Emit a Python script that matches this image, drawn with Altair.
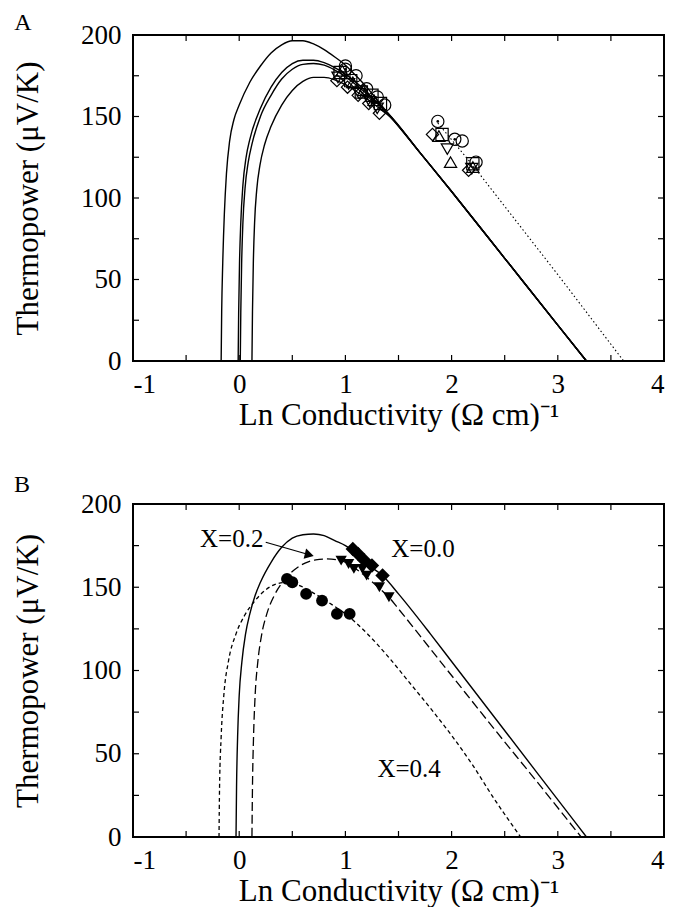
import altair as alt
import pandas as pd

# ---------------- Panel A data ----------------
a_outer_x = [-0.17, -0.165, -0.155, -0.14, -0.12, -0.09, -0.05, 0.0, 0.1, 0.2, 0.3, 0.4, 0.5, 0.6, 0.7, 0.8, 0.9, 1.0, 1.1, 1.2, 1.3, 1.4, 1.7, 2.0, 2.5, 3.0, 3.27]
a_outer_y = [0, 30, 60, 90, 115, 135, 148, 157, 171, 181, 189, 194, 196.5, 196.5, 194.5, 191, 186.5, 181.5, 175, 168, 160, 152, 128, 104, 63, 22, 0]
a_mid1_x = [-0.01, -0.005, 0.003, 0.015, 0.035, 0.065, 0.1, 0.2, 0.3, 0.4, 0.5, 0.6, 0.7, 0.8, 0.9, 1.0, 1.1, 1.2, 1.3, 1.4, 1.7, 2.0, 2.5, 3.0, 3.27]
a_mid1_y = [0, 30, 60, 85, 108, 125, 136, 155, 168, 177, 182.5, 184.5, 184.5, 183, 180, 176, 171, 165, 158.5, 152, 128, 104, 63, 22, 0]
a_mid2_x = [0.01, 0.015, 0.023, 0.035, 0.055, 0.085, 0.12, 0.2, 0.3, 0.4, 0.5, 0.6, 0.7, 0.8, 0.9, 1.0, 1.1, 1.2, 1.3, 1.4, 1.7, 2.0, 2.5, 3.0, 3.27]
a_mid2_y = [0, 30, 60, 85, 106, 122, 133, 150, 163, 173, 179, 182, 182.5, 181.5, 178.5, 174.5, 169.5, 164, 158, 152, 128, 104, 63, 22, 0]
a_inner_x = [0.12, 0.125, 0.133, 0.145, 0.165, 0.195, 0.24, 0.3, 0.4, 0.5, 0.6, 0.7, 0.8, 0.9, 1.0, 1.1, 1.2, 1.3, 1.4, 1.7, 2.0, 2.5, 3.0, 3.27]
a_inner_y = [0, 30, 60, 85, 105, 120, 133, 144, 157, 166, 171.5, 174, 174, 172.5, 169.5, 165.5, 161, 156, 151, 128, 104, 63, 22, 0]
a_dot_x = [1.87, 2.2, 3.0, 3.62]
a_dot_y = [146, 120, 53, 0]

a_sq_x = [0.95, 1.05, 1.15, 1.25, 1.33, 1.91, 2.2]
a_sq_y = [177, 172, 165, 163, 158, 139, 121]
a_ci_x = [1.0, 1.1, 1.2, 1.3, 1.37, 2.1, 2.23]
a_ci_y = [181, 175, 167, 162, 157, 135, 122]
a_di_x = [0.92, 1.02, 1.12, 1.22, 1.32, 1.82, 2.16]
a_di_y = [172, 168, 163, 158, 152, 139, 117]
a_tu_x = [0.97, 1.07, 1.17, 1.27, 1.88, 1.99, 2.2]
a_tu_y = [178, 171, 166, 160, 138, 122, 119]
a_td_x = [0.93, 1.03, 1.13, 1.23, 1.3, 1.96, 2.19]
a_td_y = [174, 170, 164, 159, 155, 130, 118]
a_cd_x = [1.0, 1.87, 2.03]
a_cd_y = [179, 147, 136]

# ---------------- Panel B data ----------------
b_x00_x = [-0.03, -0.025, -0.015, 0.0, 0.025, 0.06, 0.1, 0.15, 0.2, 0.3, 0.4, 0.5, 0.6, 0.7, 0.8, 0.9, 1.0, 1.1, 1.2, 1.35, 1.5, 1.8, 2.0, 2.4, 2.8, 3.27]
b_x00_y = [0, 30, 60, 85, 105, 122, 134, 145, 153, 165, 174, 179.5, 181.5, 182, 181, 178, 175, 170, 164, 157, 146, 122, 105.4, 72.2, 39, 0]
b_x02_x = [0.12, 0.125, 0.135, 0.15, 0.175, 0.21, 0.26, 0.33, 0.42, 0.52, 0.62, 0.72, 0.82, 0.92, 1.0, 1.1, 1.2, 1.3, 1.41, 1.5, 1.8, 2.0, 2.4, 2.8, 3.22]
b_x02_y = [0, 30, 60, 85, 105, 121, 134, 145, 154, 160.5, 164.5, 166.5, 167, 166.5, 165, 161, 156, 150.5, 144, 137, 113, 97, 65, 33.5, 0]
b_x04_x = [-0.19, -0.185, -0.17, -0.145, -0.1, -0.03, 0.05, 0.15, 0.25, 0.35, 0.45, 0.55, 0.7, 0.85, 1.0, 1.2, 1.4, 1.6, 1.83, 2.0, 2.2, 2.4, 2.65]
b_x04_y = [0, 30, 60, 85, 106, 122, 133, 142, 148.5, 152, 153, 151.5, 146.5, 140.5, 134, 122.5, 108.5, 93, 75, 61, 43, 23, 0]

b_di_x = [1.07, 1.12, 1.18, 1.25, 1.35]
b_di_y = [173, 170, 166, 163, 157]
b_td_x = [0.96, 1.03, 1.08, 1.16, 1.2, 1.32, 1.41]
b_td_y = [166, 164, 161, 161, 157, 150, 144]
b_ci_x = [0.45, 0.5, 0.63, 0.78, 0.92, 1.04]
b_ci_y = [155, 153, 146, 142, 134, 134]

b_labels = ["X=0.2", "X=0.0", "X=0.4"]
b_label_x = [-0.07, 1.73, 1.6]
b_label_y = [179, 173, 41]
b_arrow_x = [0.25, 0.66]
b_arrow_y = [177, 169.5]

x_ticks_major = [-1, 0, 1, 2, 3, 4]
x_ticks_all = [-1, -0.5, 0, 0.5, 1, 1.5, 2, 2.5, 3, 3.5, 4]
y_ticks_major = [0, 50, 100, 150, 200]
y_ticks_all = [0, 25, 50, 75, 100, 125, 150, 175, 200]

W = 531
HA = 326
HB = 333
FONT = "Liberation Serif"

xs = alt.Scale(domain=[-1, 4], nice=False, zero=False)
ys = alt.Scale(domain=[0, 200], nice=False, zero=False)
XTITLE = "Ln Conductivity (\u03a9 cm)\u207b\u00b9"
YTITLE = "Thermopower (\u03bcV/K)"


def xenc():
    return alt.X("x:Q", scale=xs, axis=alt.Axis(values=x_ticks_major, title=XTITLE, ticks=False,
                                                 domain=False, grid=False, labelPadding=10,
                                                 titlePadding=3, labelExpr="datum.value"))


def yenc():
    return alt.Y("y:Q", scale=ys, axis=alt.Axis(values=y_ticks_major, title=YTITLE, ticks=False,
                                                 domain=False, grid=False, labelPadding=12,
                                                 titlePadding=36))


def curve_df(pairs):
    rows = []
    for name, xv, yv in pairs:
        for i, (a, b) in enumerate(zip(xv, yv)):
            rows.append({"x": a, "y": b, "c": name, "o": i})
    return pd.DataFrame(rows)


def tick_layers(H):
    xt = pd.DataFrame({"x": x_ticks_all})
    yt = pd.DataFrame({"y": y_ticks_all})
    bx = alt.Chart(xt).mark_rule(color="black", strokeWidth=1.2).encode(
        x=alt.X("x:Q", scale=xs), y=alt.value(H), y2=alt.value(H - 6))
    tx = alt.Chart(xt).mark_rule(color="black", strokeWidth=1.2).encode(
        x=alt.X("x:Q", scale=xs), y=alt.value(0), y2=alt.value(6))
    ly = alt.Chart(yt).mark_rule(color="black", strokeWidth=1.2).encode(
        y=alt.Y("y:Q", scale=ys), x=alt.value(0), x2=alt.value(6))
    ry = alt.Chart(yt).mark_rule(color="black", strokeWidth=1.2).encode(
        y=alt.Y("y:Q", scale=ys), x=alt.value(W), x2=alt.value(W - 6))
    return [bx, tx, ly, ry]


# ---------- Panel A ----------
a_curves = curve_df([("o", a_outer_x, a_outer_y), ("m1", a_mid1_x, a_mid1_y),
                     ("m2", a_mid2_x, a_mid2_y), ("i", a_inner_x, a_inner_y)])
a_lines = alt.Chart(a_curves).mark_line(color="black", strokeWidth=1.4, interpolate="monotone").encode(
    x=xenc(), y=yenc(), detail="c:N", order="o:Q")
a_dotted = alt.Chart(pd.DataFrame({"x": a_dot_x, "y": a_dot_y})).mark_line(
    color="black", strokeWidth=1.1, strokeDash=[1.5, 2.5]).encode(x=alt.X("x:Q", scale=xs), y=alt.Y("y:Q", scale=ys))

a_pts_rows = []
for shp, xv, yv in [("square", a_sq_x, a_sq_y), ("circle", a_ci_x, a_ci_y), ("diamond", a_di_x, a_di_y),
                    ("triangle-up", a_tu_x, a_tu_y), ("triangle-down", a_td_x, a_td_y), ("circle", a_cd_x, a_cd_y)]:
    for a, b in zip(xv, yv):
        a_pts_rows.append({"x": a, "y": b, "s": shp})
a_pts = alt.Chart(pd.DataFrame(a_pts_rows)).mark_point(filled=False, color="black", strokeWidth=1.2, size=150, opacity=1).encode(
    x=alt.X("x:Q", scale=xs), y=alt.Y("y:Q", scale=ys),
    shape=alt.Shape("s:N", scale=None, legend=None))
a_cdot = alt.Chart(pd.DataFrame({"x": a_cd_x, "y": a_cd_y})).mark_point(filled=True, color="black", size=7, opacity=1).encode(
    x=alt.X("x:Q", scale=xs), y=alt.Y("y:Q", scale=ys))
a_label = alt.Chart(pd.DataFrame({"t": ["A"]})).mark_text(font=FONT, fontSize=24, align="center", baseline="alphabetic").encode(
    text="t:N", x=alt.value(-110), y=alt.value(-5))

panelA = alt.layer(a_lines, a_dotted, a_pts, a_cdot, a_label, *tick_layers(HA)).properties(width=W, height=HA)

# ---------- Panel B ----------
b00 = alt.Chart(curve_df([("b0", b_x00_x, b_x00_y)])).mark_line(color="black", strokeWidth=1.4, interpolate="monotone").encode(
    x=xenc(), y=yenc(), order="o:Q")
b02 = alt.Chart(curve_df([("b2", b_x02_x, b_x02_y)])).mark_line(color="black", strokeWidth=1.3, strokeDash=[9, 4], interpolate="monotone").encode(
    x=alt.X("x:Q", scale=xs), y=alt.Y("y:Q", scale=ys), order="o:Q")
b04 = alt.Chart(curve_df([("b4", b_x04_x, b_x04_y)])).mark_line(color="black", strokeWidth=1.3, strokeDash=[4, 3], interpolate="monotone").encode(
    x=alt.X("x:Q", scale=xs), y=alt.Y("y:Q", scale=ys), order="o:Q")

b_di = alt.Chart(pd.DataFrame({"x": b_di_x, "y": b_di_y})).mark_point(shape="diamond", filled=True, color="black", size=210, opacity=1).encode(
    x=alt.X("x:Q", scale=xs), y=alt.Y("y:Q", scale=ys))
b_td = alt.Chart(pd.DataFrame({"x": b_td_x, "y": b_td_y})).mark_point(shape="triangle-down", filled=True, color="black", size=130, opacity=1).encode(
    x=alt.X("x:Q", scale=xs), y=alt.Y("y:Q", scale=ys))
b_ci = alt.Chart(pd.DataFrame({"x": b_ci_x, "y": b_ci_y})).mark_point(shape="circle", filled=True, color="black", size=140, opacity=1).encode(
    x=alt.X("x:Q", scale=xs), y=alt.Y("y:Q", scale=ys))

b_text = alt.Chart(pd.DataFrame({"t": b_labels, "x": b_label_x, "y": b_label_y})).mark_text(
    font=FONT, fontSize=25, align="center", baseline="middle").encode(
    x=alt.X("x:Q", scale=xs), y=alt.Y("y:Q", scale=ys), text="t:N")
b_arrow = alt.Chart(pd.DataFrame({"x": b_arrow_x, "y": b_arrow_y})).mark_line(color="black", strokeWidth=1.2).encode(
    x=alt.X("x:Q", scale=xs), y=alt.Y("y:Q", scale=ys))
b_head = alt.Chart(pd.DataFrame({"x": b_arrow_x[-1:], "y": b_arrow_y[-1:]})).mark_point(
    shape="triangle-right", filled=True, color="black", size=110, angle=14, opacity=1).encode(
    x=alt.X("x:Q", scale=xs), y=alt.Y("y:Q", scale=ys))
b_label = alt.Chart(pd.DataFrame({"t": ["B"]})).mark_text(font=FONT, fontSize=24, align="center", baseline="alphabetic").encode(
    text="t:N", x=alt.value(-111), y=alt.value(-12))

panelB = alt.layer(b00, b02, b04, b_ci, b_td, b_di, b_arrow, b_head, b_text, b_label, *tick_layers(HB)).properties(width=W, height=HB)

chart = alt.vconcat(panelA, panelB, spacing=143, bounds="flush").properties(
    padding={"left": 3, "top": 2, "right": 2, "bottom": 0}
).configure_view(stroke="black", strokeWidth=2).configure_axis(
    labelFont=FONT, titleFont=FONT, labelFontSize=27, titleFontSize=31, labelColor="black",
    titleColor="black", titleFontWeight="normal"
)

chart.save("out.html", embed_options={"renderer": "svg", "actions": False})
